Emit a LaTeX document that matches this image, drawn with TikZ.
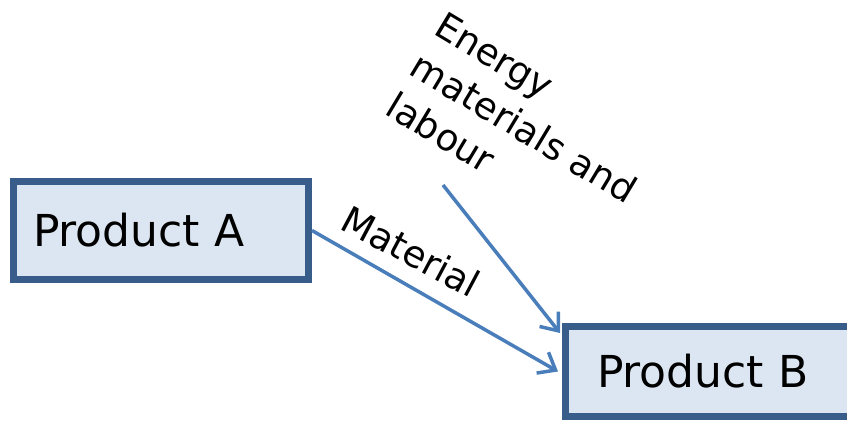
\documentclass[tikz,border=0pt]{standalone}
\usepackage{fontspec}
\setmainfont{DejaVu Sans}
\usetikzlibrary{arrows.meta}
\definecolor{boxfill}{HTML}{DCE6F2}
\definecolor{boxline}{HTML}{385D8A}
\definecolor{flowline}{HTML}{4A7EBB}

\begin{document}
\begin{tikzpicture} [
			x=1pt, y=-1pt,
			box/.style={rectangle, draw=boxline, line width=7pt, fill=boxfill,
				minimum width=295pt, align=left, text width=256pt, inner xsep=19.5pt,
				font=\fontsize{44}{53}\selectfont},
			arrow/.style={flowline, line width=3.5pt, -{Straight Barb[length=15pt, width=24pt]}},
			label/.style={inner sep=0pt, font=\fontsize{37}{47}\selectfont}
		]
		\clip (0,0) rectangle (847,423);
		\node at (161,230.5) [box, minimum height=98pt] (prodA) {Product A};
		\node at (713,371.5) [box, minimum height=90pt, inner xsep=31.5pt, text width=232pt] (prodB) {Product B};
		\coordinate (supply) at (443,185);
		\coordinate (intoB) at (560,333);
		
		\draw [arrow] (prodA.east) -- ([xshift=-4pt]prodB.west);
		\draw [arrow] (supply) -- (intoB);
		\node at (338,228) [label, anchor=base west, rotate=-28] (matlabel) {Material};
		\node at (524,128) [label, align=left, rotate=-31] (inputlabel) {Energy\\materials and\\labour};
	\end{tikzpicture}
\end{document}
